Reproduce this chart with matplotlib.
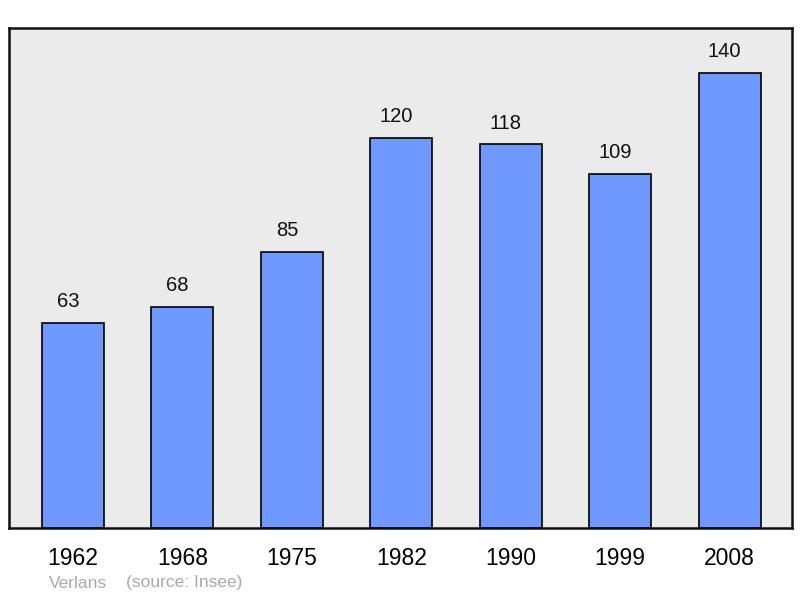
import matplotlib
matplotlib.use("Agg")
import matplotlib.pyplot as plt

years = ["1962", "1968", "1975", "1982", "1990", "1999", "2008"]
population = [63, 68, 85, 120, 118, 109, 140]

plt.rcParams['font.family'] = ['Liberation Sans', 'DejaVu Sans']

fig = plt.figure(figsize=(8.0, 5.98), dpi=100)
W, H = 800, 598
ax = fig.add_axes([9 / W, 1 - 528 / H, (792 - 9) / W, (528 - 28) / H])
ax.set_facecolor('#ebebeb')

x = list(range(len(years)))
ax.bar(x, population, width=0.567, color='#7099ff', edgecolor='black', linewidth=1.2, zorder=2)
for xi, v in zip(x, population):
    ax.annotate(str(v), (xi, v), xytext=(-3.6, 8.5), textcoords='offset points',
                ha='center', va='bottom', fontsize=14.5, color='#111111')

ax.set_xlim(-0.585, 6.57)
ax.set_ylim(0, 153.8)
ax.set_xticks(x)
ax.set_xticklabels(years, fontsize=16.5)
ax.tick_params(axis='x', length=0, pad=14)
ax.set_yticks([])
for s in ax.spines.values():
    s.set_linewidth(1.8)
    s.set_color('#111111')

fig.text(49 / W, 1 - 583 / H, "Verlans", fontsize=12.5, color='#aaaaaa', va='center', ha='left')
fig.text(126 / W, 1 - 583 / H, "(source: Insee)", fontsize=12.5, color='#aaaaaa', va='center', ha='left')

fig.savefig('out.png', dpi=100)
